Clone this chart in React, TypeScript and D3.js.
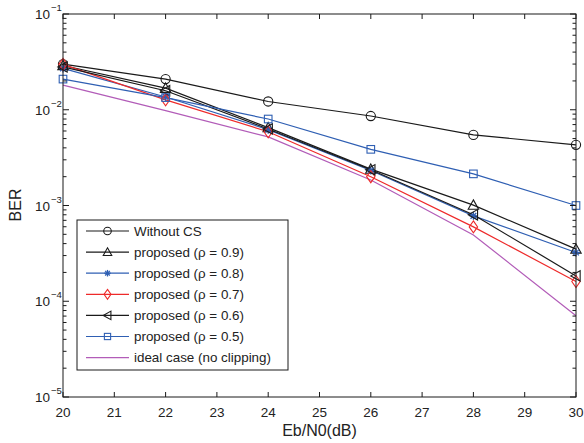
import React from "react";
import * as d3 from "d3";

const ebn0 = [20, 22, 24, 26, 28, 30];
const withoutCS = [0.030, 0.0209, 0.0122, 0.0086, 0.00546, 0.0043];
const rho09 = [0.029, 0.0168, 0.0065, 0.0024, 0.00101, 0.00035];
const rho08 = [0.027, 0.0136, 0.0062, 0.00232, 0.00078, 0.000323];
const rho07 = [0.0298, 0.0127, 0.0059, 0.002, 0.000598, 0.000161];
const rho06 = [0.028, 0.0158, 0.0063, 0.00236, 0.0008, 0.000184];
const rho05 = [0.0209, 0.0134, 0.008, 0.00386, 0.00214, 0.001];
const ideal = [0.0181, 0.0098, 0.0052, 0.00185, 0.000493, 0.0000705];

const xTicks = [20, 21, 22, 23, 24, 25, 26, 27, 28, 29, 30];
const yExponents = [-1, -2, -3, -4, -5];

const BLACK = "#1a1a1a";
const BLUE = "#2f5fb3";
const RED = "#ee2a2a";
const PURPLE = "#b25cb8";

type Marker = "circle" | "tri-up" | "star" | "diamond" | "tri-left" | "square" | "none";

const series: { name: string; values: number[]; color: string; marker: Marker }[] = [
  { name: "Without CS", values: withoutCS, color: BLACK, marker: "circle" },
  { name: "proposed (\u03c1 = 0.9)", values: rho09, color: BLACK, marker: "tri-up" },
  { name: "proposed (\u03c1 = 0.8)", values: rho08, color: BLUE, marker: "star" },
  { name: "proposed (\u03c1 = 0.7)", values: rho07, color: RED, marker: "diamond" },
  { name: "proposed (\u03c1 = 0.6)", values: rho06, color: BLACK, marker: "tri-left" },
  { name: "proposed (\u03c1 = 0.5)", values: rho05, color: BLUE, marker: "square" },
  { name: "ideal case (no clipping)", values: ideal, color: PURPLE, marker: "none" },
];

const L = 63, R = 576, T = 14, B = 397;

function MarkerShape({ type, x, y, color, s = 1 }: { type: Marker; x: number; y: number; color: string; s?: number }) {
  const common = { fill: "none", stroke: color, strokeWidth: 1.1 };
  switch (type) {
    case "circle":
      return <circle cx={x} cy={y} r={4.6 * s} {...common} />;
    case "tri-up": {
      const h = 5.2 * s;
      return <polygon points={`${x},${y - h} ${x + h},${y + h * 0.8} ${x - h},${y + h * 0.8}`} {...common} />;
    }
    case "tri-left": {
      const h = 5.2 * s;
      return <polygon points={`${x - h},${y} ${x + h * 0.8},${y - h} ${x + h * 0.8},${y + h}`} {...common} />;
    }
    case "diamond": {
      const w = 4.2 * s, h = 6 * s;
      return <polygon points={`${x},${y - h} ${x + w},${y} ${x},${y + h} ${x - w},${y}`} {...common} />;
    }
    case "square": {
      const a = 3.8 * s;
      return <rect x={x - a} y={y - a} width={2 * a} height={2 * a} {...common} />;
    }
    case "star": {
      const a = 4 * s;
      const d = a * 0.72;
      return (
        <g stroke={color} strokeWidth={1.3}>
          <line x1={x - a} y1={y} x2={x + a} y2={y} />
          <line x1={x} y1={y - a} x2={x} y2={y + a} />
          <line x1={x - d} y1={y - d} x2={x + d} y2={y + d} />
          <line x1={x - d} y1={y + d} x2={x + d} y2={y - d} />
        </g>
      );
    }
    default:
      return null;
  }
}

export default function App() {
  const x = d3.scaleLinear().domain([20, 30]).range([L, R]);
  const y = d3.scaleLog().domain([1e-5, 1e-1]).range([B, T]);
  const line = d3
    .line<number>()
    .x((_, i) => x(ebn0[i]))
    .y((v) => y(v));

  const minor: number[] = [];
  for (let e = -5; e < -1; e++) {
    for (let k = 2; k <= 9; k++) minor.push(k * Math.pow(10, e));
  }

  const font = "'Liberation Sans', Arial, Helvetica, sans-serif";
  const legX = 77, legY = 220, legW = 211, legH = 150;
  const rowY0 = 231, rowDy = 21.1;

  return (
    <svg width={584} height={443} style={{ position: "absolute", left: 0, top: 0, background: "#fff" }} fontFamily={font}>
      <rect x={0} y={0} width={584} height={443} fill="#fff" />
      {series.map((s) => (
        <path key={s.name} d={line(s.values) || ""} fill="none" stroke={s.color} strokeWidth={1.2} />
      ))}
      {series.map((s) =>
        s.values.map((v, i) => (
          <MarkerShape key={s.name + i} type={s.marker} x={x(ebn0[i])} y={y(v)} color={s.color} />
        ))
      )}
      <rect x={L} y={T} width={R - L} height={B - T} fill="none" stroke={BLACK} strokeWidth={1} />
      {xTicks.map((t) => (
        <g key={"xt" + t}>
          <line x1={x(t)} x2={x(t)} y1={B} y2={B - 5} stroke={BLACK} />
          <line x1={x(t)} x2={x(t)} y1={T} y2={T + 5} stroke={BLACK} />
          <text x={x(t)} y={417} fontSize={13.5} textAnchor="middle" fill="#222">
            {t}
          </text>
        </g>
      ))}
      {yExponents.map((e) => {
        const yy = y(Math.pow(10, e));
        return (
          <g key={"ye" + e}>
            <line x1={L} x2={L + 6} y1={yy} y2={yy} stroke={BLACK} />
            <line x1={R} x2={R - 6} y1={yy} y2={yy} stroke={BLACK} />
            <text x={50} y={yy + 5} fontSize={13.5} textAnchor="end" fill="#222">
              10
            </text>
            <text x={51} y={yy - 3} fontSize={9.5} textAnchor="start" fill="#222">
              {"\u2212" + Math.abs(e)}
            </text>
          </g>
        );
      })}
      {minor.map((m, i) => {
        const yy = y(m);
        return (
          <g key={"ym" + i}>
            <line x1={L} x2={L + 3.5} y1={yy} y2={yy} stroke={BLACK} />
            <line x1={R} x2={R - 3.5} y1={yy} y2={yy} stroke={BLACK} />
          </g>
        );
      })}
      <text x={(L + R) / 2} y={436} fontSize={16} textAnchor="middle" fill="#222">
        Eb/N0(dB)
      </text>
      <text transform={`translate(21,205) rotate(-90)`} fontSize={16} textAnchor="middle" fill="#222">
        BER
      </text>
      <rect x={legX} y={legY} width={legW} height={legH} fill="#fff" stroke={BLACK} strokeWidth={1} />
      {series.map((s, i) => {
        const ry = rowY0 + i * rowDy;
        return (
          <g key={"leg" + i}>
            <line x1={86} x2={129} y1={ry} y2={ry} stroke={s.color} strokeWidth={1.2} />
            <MarkerShape type={s.marker} x={107.5} y={ry} color={s.color} s={0.82} />
            <text x={134} y={ry + 4.8} fontSize={13.4} fill="#222">
              {s.name}
            </text>
          </g>
        );
      })}
    </svg>
  );
}
